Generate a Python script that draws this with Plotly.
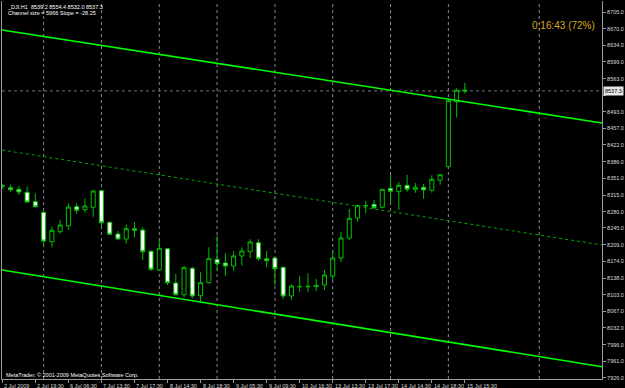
import plotly.graph_objects as go

# ---- data (DJI, H1) ----
opens = [8333.5, 8330.9, 8327.5, 8321.1, 8301.0, 8278.4, 8215.8, 8237.1, 8249.8, 8290.4,
         8284.0, 8289.1, 8324.5, 8257.1, 8232.2, 8221.5, 8243.5, 8240.7, 8195.3, 8155.4,
         8200.8, 8127.7, 8102.7, 8159.0, 8100.6, 8128.3, 8178.2, 8170.3, 8163.9, 8185.3,
         8194.4, 8213.6, 8179.5, 8181.0, 8161.2, 8100.0, 8120.3, 8119.5, 8120.0, 8123.4,
         8142.6, 8181.0, 8223.6, 8266.3, 8292.0, 8295.5, 8289.1, 8329.6, 8322.4, 8336.0,
         8327.5, 8331.8, 8325.4, 8346.7, 8375.7, 8514.3, 8539.2]
highs = [8338.8, 8337.3, 8334.5, 8333.0, 8318.9, 8279.5, 8247.7, 8262.0, 8297.6, 8297.6,
         8308.3, 8326.0, 8325.5, 8258.4, 8238.6, 8252.8, 8257.8, 8246.5, 8198.0, 8217.9,
         8202.0, 8146.9, 8164.6, 8162.4, 8150.5, 8203.8, 8228.5, 8191.0, 8195.3, 8203.8,
         8220.9, 8220.9, 8195.9, 8182.0, 8162.0, 8124.9, 8142.6, 8148.4, 8136.2, 8155.4,
         8198.0, 8236.4, 8285.5, 8294.6, 8303.2, 8304.7, 8328.0, 8358.6, 8343.1, 8358.0,
         8340.9, 8339.4, 8357.3, 8359.5, 8517.5, 8542.9, 8554.4]
lows = [8328.1, 8322.4, 8315.3, 8299.0, 8289.0, 8208.7, 8203.8, 8233.6, 8240.7, 8275.4,
        8277.6, 8269.1, 8247.7, 8230.0, 8220.0, 8212.3, 8225.1, 8176.7, 8153.3, 8153.3,
        8123.4, 8101.4, 8097.2, 8095.1, 8087.8, 8127.0, 8155.4, 8142.6, 8153.9, 8164.6,
        8181.0, 8175.2, 8161.2, 8122.8, 8093.0, 8091.4, 8109.1, 8108.5, 8110.6, 8112.8,
        8134.1, 8172.5, 8219.4, 8258.4, 8276.3, 8284.9, 8287.0, 8298.9, 8283.3, 8322.4,
        8320.2, 8307.5, 8320.2, 8337.3, 8374.0, 8480.2, 8532.0]
closes = [8335.6, 8326.6, 8321.7, 8300.4, 8290.4, 8217.2, 8240.1, 8251.4, 8289.7, 8282.7,
          8291.9, 8323.9, 8256.3, 8231.5, 8221.5, 8243.5, 8240.1, 8194.4, 8156.9, 8201.7,
          8128.3, 8102.7, 8160.3, 8100.0, 8128.3, 8179.5, 8168.8, 8163.9, 8185.3, 8195.9,
          8215.1, 8179.5, 8175.2, 8158.2, 8100.0, 8121.3, 8119.8, 8120.5, 8122.0, 8144.8,
          8181.0, 8223.6, 8265.6, 8292.5, 8293.0, 8288.3, 8327.5, 8323.2, 8336.0, 8327.5,
          8331.8, 8326.0, 8348.8, 8358.6, 8516.4, 8538.6, 8537.3]
bar_idx = list(range(len(opens)))

time_labels = ["2 Jul 2009", "2 Jul 19:30", "6 Jul 06:30", "7 Jul 13:30", "7 Jul 17:30",
               "8 Jul 14:30", "8 Jul 18:30", "9 Jul 05:30", "9 Jul 09:30", "10 Jul 16:30",
               "13 Jul 13:30", "13 Jul 17:30", "14 Jul 14:30", "14 Jul 18:30", "15 Jul 15:30"]
label_idx = [0, 4, 8, 12, 16, 20, 24, 28, 32, 36, 40, 44, 48, 52, 56]

price_ticks = [8705.0, 8670.0, 8634.0, 8599.0, 8563.0, 8528.0, 8493.0, 8457.0, 8422.0,
               8386.0, 8351.0, 8315.0, 8280.0, 8245.0, 8209.0, 8174.0, 8138.0, 8103.0,
               8067.0, 8032.0, 7996.0, 7961.0, 7926.0]
grid_idx = [5, 12, 19, 26, 33, 40, 47, 54, 65]

channel_x = [-0.04, 72.6]
channel_upper = [8667.2, 8468.9]
channel_mid = [8411.3, 8208.7]
channel_lower = [8155.4, 7949.2]
bid_price = 8537.3

header_1 = "_DJI,H1  8539.2 8554.4 8532.0 8537.3"
header_2 = "Channel size = 5966 Slope = -28.25"
timer_text = "0:16:43 (72%)"
copyright_text = "MetaTrader, \u00a9 2001-2009 MetaQuotes Software Corp."

# ---- figure ----
X_RANGE = [-0.04, 72.6]
Y_RANGE = [7923, 8729]
FONT = "Liberation Sans, Arial, sans-serif"
AXIS_GRAY = "#9a9a9a"
TEXT_GRAY = "#d8d8d8"
CANDLE_GREEN = "#00c000"

# price labels hidden behind the bid-price box are left blank (as on the reference)
tick_text = ["" if abs(v - bid_price) < 12 else "%.1f" % v for v in price_ticks]

fig = go.Figure()

# vertical dotted grid
for g in grid_idx:
    fig.add_shape(type="line", xref="x", yref="paper", x0=g, x1=g, y0=0, y1=1,
                  line=dict(color="#8a8a8a", width=1, dash="dot"), layer="below")

# bid line
fig.add_shape(type="line", xref="paper", yref="y", x0=0, x1=1, y0=bid_price, y1=bid_price,
              line=dict(color="#6e7680", width=1, dash="dot"), layer="below")

# channel
fig.add_trace(go.Scatter(x=channel_x, y=channel_upper, mode="lines",
                         line=dict(color="#00ff00", width=1.6), hoverinfo="skip"))
fig.add_trace(go.Scatter(x=channel_x, y=channel_mid, mode="lines",
                         line=dict(color="#00a800", width=1, dash="dot"), hoverinfo="skip"))
fig.add_trace(go.Scatter(x=channel_x, y=channel_lower, mode="lines",
                         line=dict(color="#00ff00", width=1.6), hoverinfo="skip"))

fig.add_trace(go.Candlestick(
    x=bar_idx, open=opens, high=highs, low=lows, close=closes,
    increasing=dict(fillcolor="#000000", line=dict(color=CANDLE_GREEN, width=1)),
    decreasing=dict(fillcolor="#ffffff", line=dict(color=CANDLE_GREEN, width=1)),
    whiskerwidth=0, hoverinfo="skip"))

# bottom time labels
for i, t in zip(label_idx, time_labels):
    fig.add_annotation(x=i, y=-0.004, xref="x", yref="paper", text=t, showarrow=False,
                       xanchor="left", yanchor="top", xshift=0,
                       font=dict(family=FONT, size=5.5, color=TEXT_GRAY))

# bid label on price axis
fig.add_annotation(x=1, y=bid_price, xref="paper", yref="y", text="%.1f" % bid_price,
                   showarrow=False, xanchor="left", yanchor="middle", xshift=1,
                   bgcolor="#e6e6e6", borderpad=1,
                   font=dict(family=FONT, size=5.5, color="#000000"))

# header texts
fig.add_annotation(x=0.005, y=0.998, xref="paper", yref="paper", text=header_1,
                   showarrow=False, xanchor="left", yanchor="top",
                   font=dict(family=FONT, size=5.5, color="#ffffff"))
fig.add_annotation(x=0.007, y=0.982, xref="paper", yref="paper", text=header_2,
                   showarrow=False, xanchor="left", yanchor="top",
                   font=dict(family=FONT, size=5.5, color="#ffffff"))
fig.add_annotation(x=0.935, y=0.9365, xref="paper", yref="paper", text=timer_text,
                   showarrow=False, xanchor="center", yanchor="middle",
                   font=dict(family=FONT, size=10, color="#d9a81e"))
fig.add_annotation(x=0.003, y=0.0115, xref="paper", yref="paper", text=copyright_text,
                   showarrow=False, xanchor="left", yanchor="middle",
                   font=dict(family=FONT, size=5.5, color="#ffffff"))

fig.update_layout(
    width=625, height=388,
    margin=dict(l=2, r=20, t=1, b=9),
    paper_bgcolor="#000000", plot_bgcolor="#000000",
    showlegend=False, hovermode=False,
    xaxis=dict(range=X_RANGE, showgrid=False, zeroline=False, rangeslider=dict(visible=False),
               showline=True, linecolor=AXIS_GRAY, linewidth=1,
               tickmode="array", tickvals=label_idx, ticks="outside", ticklen=3,
               tickcolor=AXIS_GRAY, showticklabels=False, fixedrange=True),
    yaxis=dict(range=Y_RANGE, side="right", showgrid=False, zeroline=False,
               showline=True, mirror=True, linecolor=AXIS_GRAY, linewidth=1,
               tickmode="array", tickvals=price_ticks, ticktext=tick_text,
               ticks="outside", ticklen=3, tickcolor=AXIS_GRAY,
               tickfont=dict(family=FONT, size=5.5, color=TEXT_GRAY), fixedrange=True),
)

fig.write_html("out.html")
